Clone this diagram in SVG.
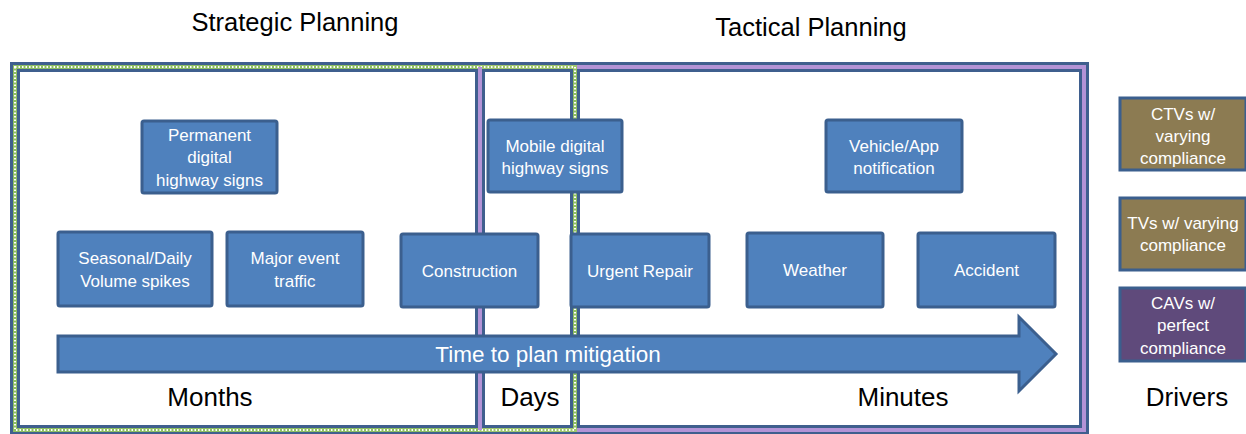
<svg xmlns="http://www.w3.org/2000/svg" width="1246" height="434" viewBox="0 0 1246 434">
<style>
.frame{fill:none;stroke:#3f5f8e;stroke-width:10}
.green{fill:none;stroke:#9ccf5c;stroke-width:4}
.greendot{fill:none;stroke:#ffffff;stroke-width:2;stroke-dasharray:1.5 2}
.purple{fill:none;stroke:#b393d6;stroke-width:4}
.box{fill:#4f81bd;stroke:#3b5f8e;stroke-width:3}
.olive{fill:#8c7b52;stroke:#3b5f8e;stroke-width:3}
.violet{fill:#5f4a7b;stroke:#3b5f8e;stroke-width:3}
.bt{font-family:"Liberation Sans",Arial,sans-serif;font-size:17px;fill:#ffffff;text-anchor:middle}
.title{font-family:"Liberation Sans",Arial,sans-serif;font-size:25.5px;fill:#000000;text-anchor:middle}
.lbl{font-family:"Liberation Sans",Arial,sans-serif;font-size:26px;fill:#000000;text-anchor:middle}
</style>
<rect width="1246" height="434" fill="#ffffff"/>
<text class="title" x="295" y="31">Strategic Planning</text>
<text class="title" x="811" y="36">Tactical Planning</text>
<g id="frames">
<rect class="frame" x="15" y="67" width="560" height="363"/>
<rect class="frame" x="480" y="67" width="604" height="363"/>
<rect class="purple" x="480" y="67" width="604" height="363"/>
<rect class="green" x="15" y="67" width="560" height="363" opacity="0.85"/>
<rect class="greendot" x="15" y="67" width="560" height="363"/>
<line class="purple" x1="480" y1="67" x2="480" y2="430"/>
</g>
<g id="connectors">
<path d="M58,336 L1019,336 L1019,317 L1056,354 L1019,391 L1019,372 L58,372 Z" class="box"/>
<text class="bt" x="548" y="362" style="font-size:22.5px">Time to plan mitigation</text>
</g>
<g id="n-permanent"><rect class="box" x="142" y="121" width="135" height="72" rx="2"/><text class="bt" x="209.5" y="141">Permanent</text><text class="bt" x="209.5" y="163">digital</text><text class="bt" x="209.5" y="186">highway signs</text></g>
<g id="n-mobile"><rect class="box" x="488" y="120" width="134" height="72" rx="2"/><text class="bt" x="555" y="152">Mobile digital</text><text class="bt" x="555" y="174">highway signs</text></g>
<g id="n-vehicle"><rect class="box" x="826" y="120" width="136" height="72" rx="2"/><text class="bt" x="894" y="152">Vehicle/App</text><text class="bt" x="894" y="174">notification</text></g>
<g id="n-seasonal"><rect class="box" x="58" y="232" width="154" height="74" rx="2"/><text class="bt" x="135" y="264">Seasonal/Daily</text><text class="bt" x="135" y="287">Volume spikes</text></g>
<g id="n-major"><rect class="box" x="227" y="232" width="136" height="74" rx="2"/><text class="bt" x="295" y="264">Major event</text><text class="bt" x="295" y="287">traffic</text></g>
<g id="n-construction"><rect class="box" x="401" y="234" width="137" height="73" rx="2"/><text class="bt" x="469.5" y="277">Construction</text></g>
<g id="n-urgent"><rect class="box" x="571" y="234" width="138" height="73" rx="2"/><text class="bt" x="640" y="277">Urgent Repair</text></g>
<g id="n-weather"><rect class="box" x="747" y="233" width="136" height="74" rx="2"/><text class="bt" x="815" y="276">Weather</text></g>
<g id="n-accident"><rect class="box" x="918" y="233" width="137" height="74" rx="2"/><text class="bt" x="986.5" y="276">Accident</text></g>
<g id="n-ctv"><rect class="olive" x="1120" y="98" width="126" height="72"/><text class="bt" x="1183" y="120">CTVs w/</text><text class="bt" x="1183" y="142">varying</text><text class="bt" x="1183" y="164">compliance</text></g>
<g id="n-tv"><rect class="olive" x="1120" y="198" width="126" height="72"/><text class="bt" x="1183" y="229">TVs w/ varying</text><text class="bt" x="1183" y="251">compliance</text></g>
<g id="n-cav"><rect class="violet" x="1120" y="288" width="126" height="73"/><text class="bt" x="1183" y="309">CAVs w/</text><text class="bt" x="1183" y="331">perfect</text><text class="bt" x="1183" y="354">compliance</text></g>
<text class="lbl" x="210" y="406">Months</text>
<text class="lbl" x="530" y="406">Days</text>
<text class="lbl" x="903" y="406">Minutes</text>
<text class="lbl" x="1187" y="406">Drivers</text>
</svg>
